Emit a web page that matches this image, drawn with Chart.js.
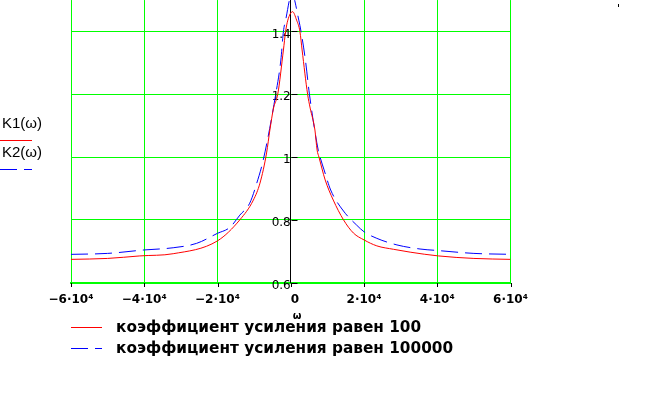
<!DOCTYPE html>
<html><head><meta charset="utf-8">
<script src="https://cdn.jsdelivr.net/npm/chart.js@4"></script>
<style>html,body{margin:0;padding:0;background:#fff}#wrap{width:646px;height:416px;position:relative}</style>
</head><body><div id="wrap"><canvas id="c" width="646" height="416"></canvas></div>
<script>
// ---- data ----
const omega1 = [-60000,-50000,-41200,-32100,-20000,-13900,-10200,-8400,-6600,-5700,-4700,-3550,-2000,-1400,-800,500,1600,2500,3100,4600,5300,6600,7200,7700,9400,11600,14400,17100,20000,23500,28100,32600,40300,50000,60000];
const k1 = [0.674,0.677,0.685,0.692,0.733,0.800,0.863,0.917,1.013,1.086,1.156,1.200,1.341,1.400,1.436,1.463,1.436,1.400,1.341,1.200,1.156,1.086,1.022,1.000,0.927,0.863,0.800,0.758,0.736,0.717,0.706,0.697,0.685,0.677,0.674];
const omega2 = [-60000,-50000,-40000,-32100,-25700,-20000,-16600,-13900,-11200,-9300,-7500,-4100,-2700,-2000,-1400,300,2200,2800,4000,5100,7500,8000,9100,10900,14400,18000,20000,23500,29000,35300,40300,50000,60000];
const k2 = [0.690,0.693,0.704,0.711,0.725,0.757,0.776,0.815,0.853,0.916,0.991,1.200,1.309,1.400,1.436,1.520,1.436,1.400,1.309,1.200,1.022,1.000,0.959,0.895,0.828,0.783,0.762,0.741,0.720,0.707,0.702,0.693,0.690];
const xTickValues = [-60000,-40000,-20000,0,20000,40000,60000];
const xTickLabels = ["\u22126\u00b710\u2074","\u22124\u00b710\u2074","\u22122\u00b710\u2074","  0","2\u00b710\u2074","4\u00b710\u2074","6\u00b710\u2074"];
const yTickValues = [0.6,0.8,1.0,1.2,1.4];
const yTickLabels = ["0.6","0.8","1","1.2","1.4"];
const seriesNames = ["коэффициент усиления равен 100","коэффициент усиления равен 100000"];
const axisNames = ["K1(\u03c9)","K2(\u03c9)"];
const xAxisTitle = "\u03c9";

const RED = '#ff0000', BLUE = '#0000ff', GREEN = '#00ff00';
const DASH = [17,7];

const extras = {
  id: 'extras',
  afterDraw(chart) {
    const ctx = chart.ctx, xs = chart.scales.x, ys = chart.scales.y;
    const x0 = Math.round(xs.getPixelForValue(0)) + 0.5;
    const yb = Math.round(ys.getPixelForValue(0.6));
    ctx.save();
    ctx.strokeStyle = '#000'; ctx.lineWidth = 1;
    ctx.beginPath();
    yTickValues.forEach(v => {
      const y = Math.round(ys.getPixelForValue(v)) + 0.5;
      ctx.moveTo(x0, y); ctx.lineTo(x0 + 6, y); });
    xTickValues.forEach(v => { const x = Math.round(xs.getPixelForValue(v)) + 0.5;
      ctx.moveTo(x, yb); ctx.lineTo(x, yb + 4); });
    ctx.stroke();

    // axis title
    ctx.fillStyle = '#000';
    ctx.font = 'bold 10px "DejaVu Sans"';
    ctx.textAlign = 'center'; ctx.textBaseline = 'middle';
    ctx.fillText(xAxisTitle, 297, 316);

    // left labels
    ctx.font = '15px "Liberation Sans"';
    ctx.textAlign = 'left';
    ctx.fillText(axisNames[0], 2, 124);
    ctx.fillText(axisNames[1], 2, 153);
    ctx.lineWidth = 1;
    ctx.strokeStyle = RED; ctx.setLineDash([]);
    ctx.beginPath(); ctx.moveTo(0, 140.5); ctx.lineTo(32, 140.5); ctx.stroke();
    ctx.strokeStyle = BLUE; ctx.setLineDash(DASH);
    ctx.beginPath(); ctx.moveTo(0, 169.5); ctx.lineTo(32, 169.5); ctx.stroke();

    // legend
    const ds = chart.data.datasets;
    const rows = [327.5, 348.5];
    ctx.font = 'bold 15.3px "DejaVu Sans"';
    ds.forEach((d, i) => {
      ctx.strokeStyle = d.borderColor; ctx.setLineDash(d.borderDash || []);
      ctx.beginPath(); ctx.moveTo(71, rows[i]); ctx.lineTo(102, rows[i]); ctx.stroke();
      ctx.setLineDash([]);
      ctx.fillStyle = '#000';
      ctx.fillText(d.label, 116, rows[i] + 1);
    });
    ctx.fillRect(618, 4, 1, 3);
    ctx.restore();
  }
};

new Chart(document.getElementById('c'), {
  type: 'line',
  data: {
    datasets: [
      { label: seriesNames[0], data: omega1.map((w,i) => ({x: w, y: k1[i]})),
        borderColor: RED, borderWidth: 1, pointRadius: 0, fill: false, cubicInterpolationMode: 'monotone' },
      { label: seriesNames[1], data: omega2.map((w,i) => ({x: w, y: k2[i]})),
        borderColor: BLUE, borderWidth: 1, borderDash: DASH, pointRadius: 0, fill: false, cubicInterpolationMode: 'monotone' }
    ]
  },
  options: {
    responsive: false, devicePixelRatio: 1, animation: false,
    layout: { padding: { left: 71, right: 135.5, top: 0, bottom: 133.4 } },
    plugins: { legend: { display: false }, tooltip: { enabled: false } },
    scales: {
      x: {
        type: 'linear', min: -60000, max: 60000, position: { y: 0.6 },
        afterBuildTicks: s => { s.ticks = xTickValues.map(v => ({ value: v })); },
        ticks: { autoSkip: false, maxRotation: 0, padding: 10, color: '#000',
          font: { family: 'DejaVu Sans', size: 12, weight: 'bold' },
          callback: v => xTickLabels[xTickValues.indexOf(v)] },
        grid: { drawTicks: false, lineWidth: 1,
          color: c => (c.tick && c.tick.value === 0) ? '#000000' : GREEN },
        border: { display: true, color: GREEN, width: 2 }
      },
      y: {
        type: 'linear', min: 0.6, max: 1.5, position: { x: 0 },
        afterBuildTicks: s => { s.ticks = yTickValues.map(v => ({ value: v })); },
        ticks: { autoSkip: false, padding: 0, labelOffset: 3, color: '#000',
          font: { family: 'DejaVu Sans', size: 12, lineHeight: 0.01 },
          callback: (v, i) => yTickLabels[i] },
        grid: { drawTicks: false, lineWidth: 1, color: GREEN },
        border: { display: true, color: '#000000', width: 1 }
      }
    }
  },
  plugins: [extras]
});
</script></body></html>
